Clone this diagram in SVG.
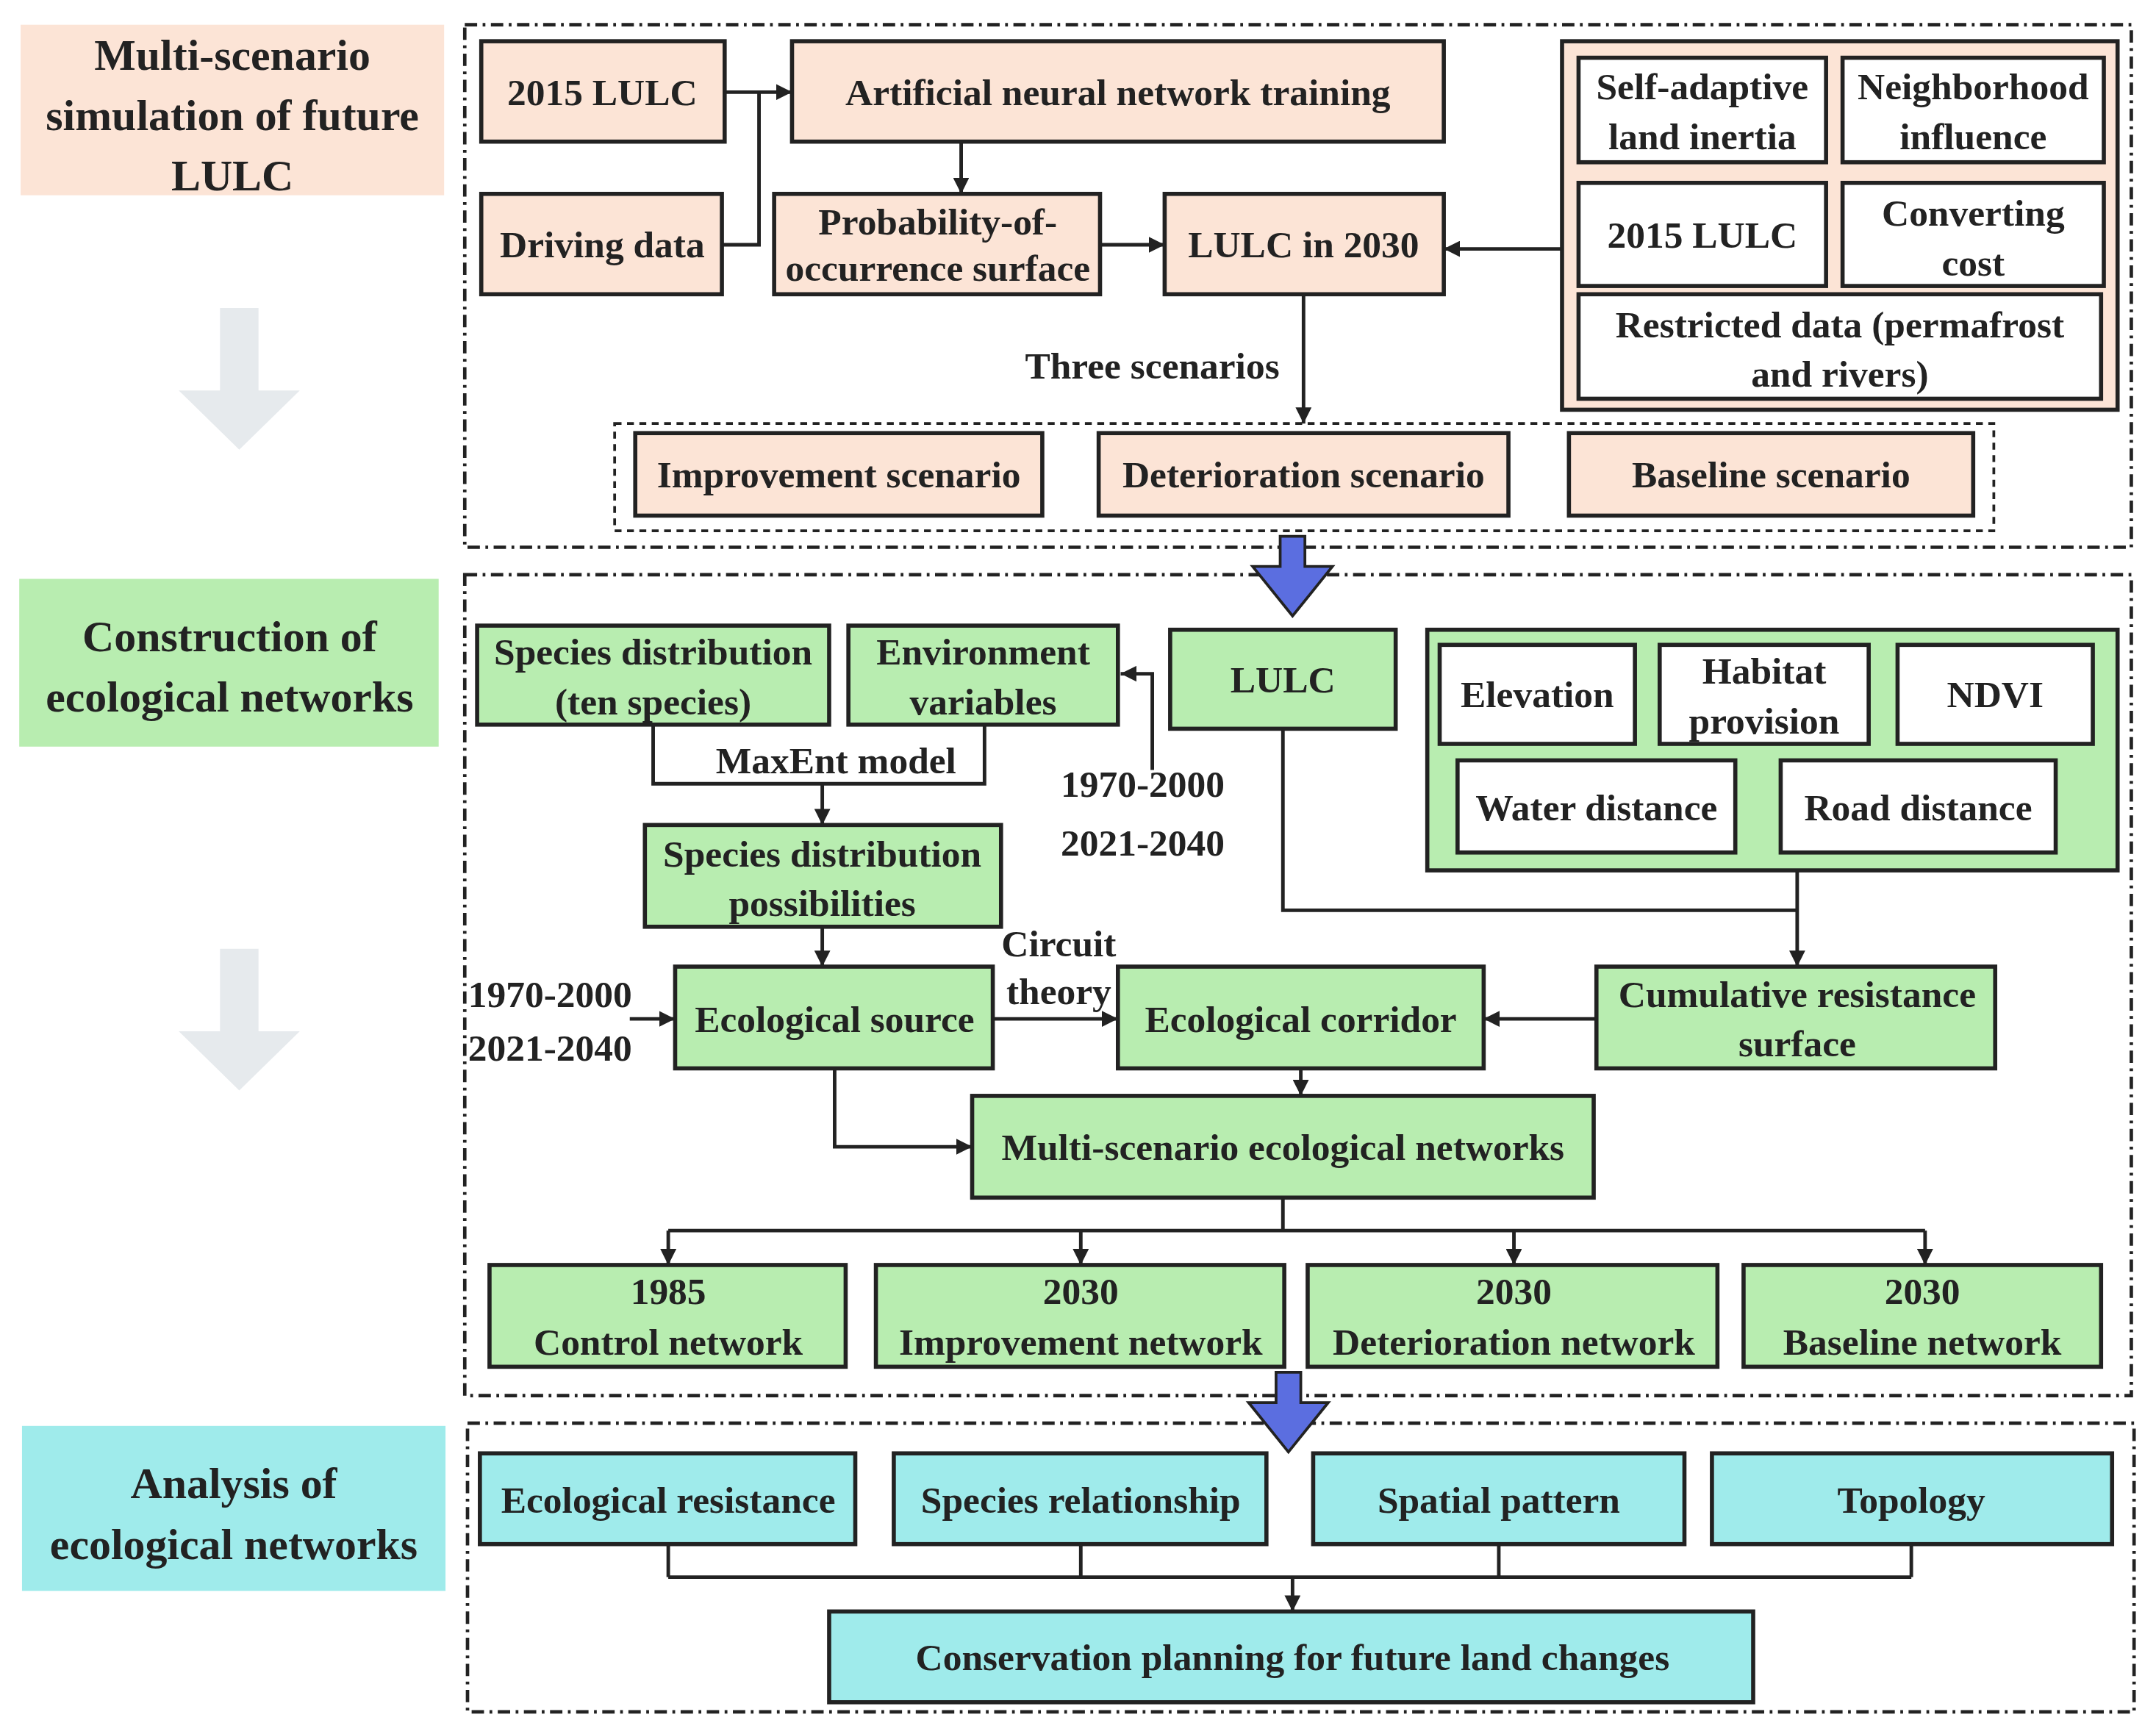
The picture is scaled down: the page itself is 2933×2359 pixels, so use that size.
<svg xmlns="http://www.w3.org/2000/svg" width="2933" height="2359" viewBox="0 0 2933 2359">
<style>
text{font-family:"Liberation Serif","Times New Roman",serif;font-weight:bold;font-size:27.5px;fill:#222;text-anchor:middle;dominant-baseline:central}
.lab{font-size:32px}
.b{stroke:#222;stroke-width:3}
.p{fill:#FCE4D6}.g{fill:#B8EDB0}.c{fill:#9FEBEB}.w{fill:#fff}
.sec{fill:none;stroke:#222;stroke-width:2.5;stroke-dasharray:9 4 2 4}
.dash{fill:none;stroke:#222;stroke-width:2;stroke-dasharray:5 4}
.ln{fill:none;stroke:#222;stroke-width:2.6}
.ar{marker-end:url(#ah)}
.big{fill:#5B6EE0;stroke:#222;stroke-width:2}
.gr{fill:#E6EAED}
</style>
<defs><marker id="ah" viewBox="0 0 10 10" refX="10" refY="5" markerWidth="4.5" markerHeight="4.5" orient="auto"><path d="M0,0L10,5L0,10z" fill="#222"/></marker></defs>
<rect width="2933" height="2359" fill="#fff"/>
<g transform="scale(1.8706)">
<g id="labels">
<rect class="p" x="15" y="18" width="308" height="124"/>
<text class="lab" x="169" y="40">Multi-scenario</text><text class="lab" x="169" y="84">simulation of future</text><text class="lab" x="169" y="128">LULC</text>
<rect class="g" x="14" y="421" width="305" height="122"/>
<text class="lab" x="167" y="463">Construction of</text><text class="lab" x="167" y="507">ecological networks</text>
<rect class="c" x="16" y="1037" width="308" height="120"/>
<text class="lab" x="170" y="1079">Analysis of</text><text class="lab" x="170" y="1123">ecological networks</text>
<path class="gr" d="M160,224h28v60h30l-44,43l-44,-43h30z"/>
<path class="gr" d="M160,690h28v60h30l-44,43l-44,-43h30z"/>
</g>
<g id="frames">
<rect class="sec" x="338" y="18" width="1212" height="380"/>
<rect class="sec" x="338" y="418" width="1212" height="597"/>
<rect class="sec" x="340" y="1035" width="1212" height="210"/>
<rect class="dash" x="447" y="308" width="1003" height="78"/>
</g>
<g id="connectors">
<path class="ln ar" d="M527,67H576"/>
<path class="ln" d="M525,178H552V67"/>
<path class="ln ar" d="M699,103V141"/>
<path class="ln ar" d="M800,178H847"/>
<path class="ln ar" d="M1136,181H1050"/>
<path class="ln ar" d="M948,214V308"/>
<path class="ln" d="M475,527V570H716V527"/>
<path class="ln ar" d="M598,570V600"/>
<path class="ln ar" d="M838,560V490H815"/>
<path class="ln" d="M933,530V662H1307"/>
<path class="ln ar" d="M1307,633V703"/>
<path class="ln ar" d="M598,674V703"/>
<path class="ln ar" d="M458,741H491"/>
<path class="ln ar" d="M722,741H813"/>
<path class="ln ar" d="M1161,741H1079"/>
<path class="ln ar" d="M607,777V834H707"/>
<path class="ln ar" d="M946,777V797"/>
<path class="ln" d="M933,871V895M486,895H1400"/>
<path class="ln ar" d="M486,895V920"/><path class="ln ar" d="M786,895V920"/><path class="ln ar" d="M1101,895V920"/><path class="ln ar" d="M1400,895V920"/>
<path class="ln" d="M486,1123V1147M786,1123V1147M1090,1123V1147M1390,1123V1147M486,1147H1390"/>
<path class="ln ar" d="M940,1147V1172"/>
<path class="big" d="M931,390h18v22h20l-29,36l-29,-36h20z"/>
<path class="big" d="M928,998h18v22h20l-29,36l-29,-36h20z"/>
<text x="838" y="266">Three scenarios</text>
<text x="608" y="553">MaxEnt model</text>
<text x="831" y="570">1970-2000</text><text x="831" y="613">2021-2040</text>
<text x="770" y="686">Circuit</text><text x="770" y="721">theory</text>
<text x="400" y="723">1970-2000</text><text x="400" y="762">2021-2040</text>
</g>
<g id="n1"><rect class="b p" x="350" y="30" width="177" height="73"/><text x="438" y="67">2015 LULC</text></g>
<g id="n2"><rect class="b p" x="576" y="30" width="474" height="73"/><text x="813" y="67">Artificial neural network  training</text></g>
<g id="n3"><rect class="b p" x="350" y="141" width="175" height="73"/><text x="438" y="178">Driving data</text></g>
<g id="n4"><rect class="b p" x="563" y="141" width="237" height="73"/><text x="682" y="161">Probability-of-</text><text x="682" y="195">occurrence surface</text></g>
<g id="n5"><rect class="b p" x="847" y="141" width="203" height="73"/><text x="948" y="178">LULC in 2030</text></g>
<g id="n6"><rect class="b p" x="1136" y="30" width="404" height="268"/>
<rect class="b w" x="1148" y="42" width="180" height="76"/><text x="1238" y="63">Self-adaptive</text><text x="1238" y="99">land inertia</text>
<rect class="b w" x="1340" y="42" width="190" height="76"/><text x="1435" y="63">Neighborhood</text><text x="1435" y="99">influence</text>
<rect class="b w" x="1148" y="133" width="180" height="75"/><text x="1238" y="171">2015 LULC</text>
<rect class="b w" x="1340" y="133" width="190" height="75"/><text x="1435" y="155">Converting</text><text x="1435" y="191">cost</text>
<rect class="b w" x="1148" y="214" width="380" height="76"/><text x="1338" y="236">Restricted  data (permafrost</text><text x="1338" y="272">and  rivers)</text></g>
<g id="n7"><rect class="b p" x="462" y="315" width="296" height="60"/><text x="610" y="345">Improvement scenario</text></g>
<g id="n8"><rect class="b p" x="799" y="315" width="298" height="60"/><text x="948" y="345">Deterioration scenario</text></g>
<g id="n9"><rect class="b p" x="1141" y="315" width="294" height="60"/><text x="1288" y="345">Baseline scenario</text></g>
<g id="n10"><rect class="b g" x="347" y="455" width="256" height="72"/><text x="475" y="474">Species distribution</text><text x="475" y="510">(ten species)</text></g>
<g id="n11"><rect class="b g" x="617" y="455" width="196" height="72"/><text x="715" y="474">Environment</text><text x="715" y="510">variables</text></g>
<g id="n12"><rect class="b g" x="851" y="458" width="164" height="72"/><text x="933" y="494">LULC</text></g>
<g id="n13"><rect class="b g" x="1038" y="458" width="502" height="175"/>
<rect class="b w" x="1047" y="469" width="142" height="72"/><text x="1118" y="505">Elevation</text>
<rect class="b w" x="1207" y="469" width="152" height="72"/><text x="1283" y="488">Habitat</text><text x="1283" y="524">provision</text>
<rect class="b w" x="1380" y="469" width="142" height="72"/><text x="1451" y="505">NDVI</text>
<rect class="b w" x="1060" y="553" width="202" height="67"/><text x="1161" y="587">Water distance</text>
<rect class="b w" x="1295" y="553" width="200" height="67"/><text x="1395" y="587">Road distance</text></g>
<g id="n14"><rect class="b g" x="469" y="600" width="259" height="74"/><text x="598" y="621">Species distribution</text><text x="598" y="657">possibilities</text></g>
<g id="n15"><rect class="b g" x="491" y="703" width="231" height="74"/><text x="607" y="741">Ecological source</text></g>
<g id="n16"><rect class="b g" x="813" y="703" width="266" height="74"/><text x="946" y="741">Ecological corridor</text></g>
<g id="n17"><rect class="b g" x="1161" y="703" width="290" height="74"/><text x="1307" y="723">Cumulative resistance</text><text x="1307" y="759">surface</text></g>
<g id="n18"><rect class="b g" x="707" y="797" width="452" height="74"/><text x="933" y="834">Multi-scenario ecological networks</text></g>
<g id="n19"><rect class="b g" x="356" y="920" width="259" height="74"/><text x="486" y="939">1985</text><text x="486" y="976">Control network</text></g>
<g id="n20"><rect class="b g" x="637" y="920" width="297" height="74"/><text x="786" y="939">2030</text><text x="786" y="976">Improvement network</text></g>
<g id="n21"><rect class="b g" x="951" y="920" width="298" height="74"/><text x="1101" y="939">2030</text><text x="1101" y="976">Deterioration network</text></g>
<g id="n22"><rect class="b g" x="1268" y="920" width="260" height="74"/><text x="1398" y="939">2030</text><text x="1398" y="976">Baseline network</text></g>
<g id="n23"><rect class="b c" x="349" y="1057" width="273" height="66"/><text x="486" y="1091">Ecological resistance</text></g>
<g id="n24"><rect class="b c" x="650" y="1057" width="271" height="66"/><text x="786" y="1091">Species relationship</text></g>
<g id="n25"><rect class="b c" x="955" y="1057" width="270" height="66"/><text x="1090" y="1091">Spatial pattern</text></g>
<g id="n26"><rect class="b c" x="1245" y="1057" width="291" height="66"/><text x="1390" y="1091">Topology</text></g>
<g id="n27"><rect class="b c" x="603" y="1172" width="672" height="66"/><text x="940" y="1205">Conservation planning for future land changes</text></g>
</g>
</svg>
